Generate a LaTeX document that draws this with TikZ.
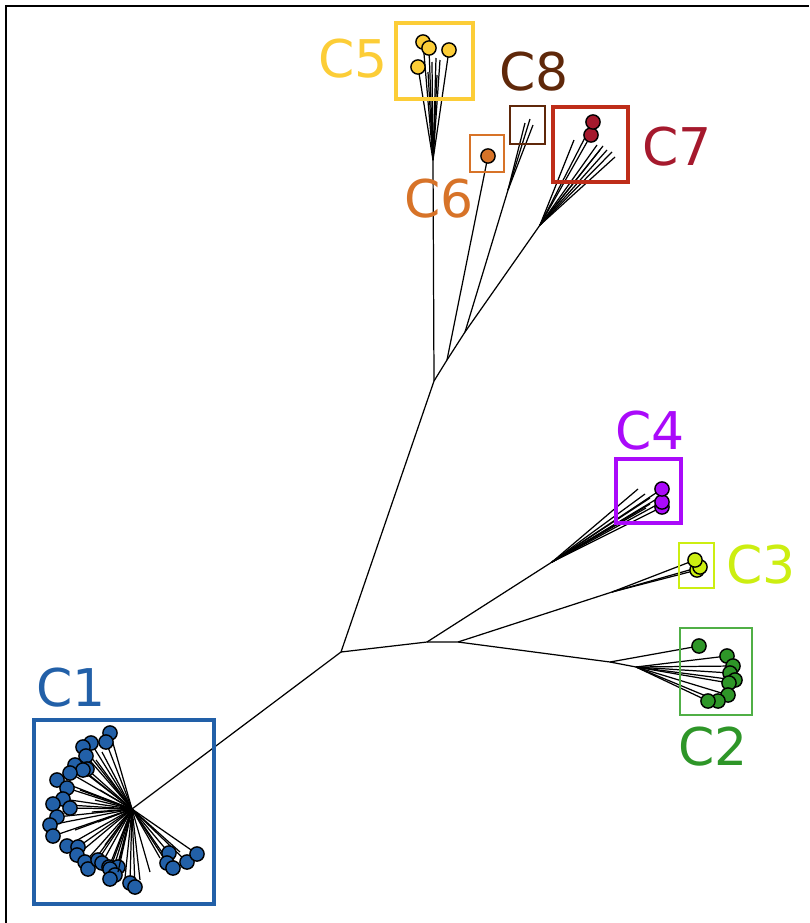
\documentclass[tikz,border=0pt]{standalone}
\usepackage{fontspec}
\setmainfont{DejaVu Sans}
\pgfdeclarelayer{bg}
\pgfsetlayers{bg,main}
\definecolor{cA}{RGB}{34,96,168}
\definecolor{cB}{RGB}{46,150,40}
\definecolor{cBbox}{RGB}{80,175,70}
\definecolor{cC}{RGB}{204,238,17}
\definecolor{cD}{RGB}{170,10,250}
\definecolor{cE}{RGB}{252,205,55}
\definecolor{cF}{RGB}{215,115,40}
\definecolor{cG}{RGB}{165,25,45}
\definecolor{cGbox}{RGB}{190,45,25}
\definecolor{cH}{RGB}{95,40,10}
\begin{document}
\begin{tikzpicture}[x=0.02cm,y=-0.02cm,
  leaf/.style={circle,draw=black,line width=0.8pt,minimum size=0.285cm,inner sep=0pt},
  edge/.style={line width=0.7pt,black},
  lab/.style={inner sep=0pt,font=\fontsize{29.6}{30}\selectfont}]
\useasboundingbox (0,0) rectangle (809,923);
\draw[line width=0.9pt] (6,923) -- (6,6) -- (809,6);
% internal coordinates
\coordinate (r) at (341,652);
\coordinate (a) at (427,642);
\coordinate (b) at (458,642);
\coordinate (t) at (434,381);
\coordinate (h1) at (132,809);
\coordinate (h2) at (610,662);
\coordinate (h2b) at (636,667);
\coordinate (h3) at (612,592);
\coordinate (h4) at (552,562);
\coordinate (h5) at (433,160);
\coordinate (j6) at (447,360);
\coordinate (j8) at (465,332);
\coordinate (h8) at (508,190);
\coordinate (h7) at (540,225);
\draw[edge] (h1) -- (r) -- (t) -- (h5);
\draw[edge] (r) -- (a) -- (b) -- (h2) -- (h2b);
\draw[edge] (a) -- (h4);
\draw[edge] (b) -- (h3);
\draw[edge] (t) -- (j6) -- (j8) -- (h7);
\draw[edge] (j8) -- (h8);
% C1
\foreach \x/\y [count=\i] in {110/733,106/742,91/743,83/747,86/756,75/765,87/769,83/770,70/773,57/780,67/788,63/799,53/804,70/808,57/817,50/825,53/836,67/846,78/847,77/855,85/862,88/869,98/860,102/863,109/867,118/867,110/869,115/875,110/879,130/883,135/887,169/853,167/863,173/868,187/862,197/854}{
  \node[leaf,fill=cA] (c1-\i) at (\x,\y) {};
  \begin{pgfonlayer}{bg}\draw[edge] (h1) -- (c1-\i.center);\end{pgfonlayer}
}
\foreach \x/\y [count=\i] in {100/790,95/800,92/812,98/822,118/872,125/878,140/880,150/872,160/858,180/852,105/845,96/760,102/752,80/790,75/830}{
  \coordinate (t1-\i) at (\x,\y);
  \draw[edge] (h1) -- (t1-\i);
}
% C2
\node[leaf,fill=cB] (c2-0) at (699,646) {};
\begin{pgfonlayer}{bg}\draw[edge] (h2) -- (c2-0.center);\end{pgfonlayer}
\foreach \x/\y [count=\i] in {727/656,733/666,730/673,735/680,729/683,728/695,718/701,708/701}{
  \node[leaf,fill=cB] (c2-\i) at (\x,\y) {};
  \begin{pgfonlayer}{bg}\draw[edge] (h2b) -- (c2-\i.center);\end{pgfonlayer}
}
% C3
\foreach \x/\y [count=\i] in {697/570,700/567,695/560}{
  \node[leaf,fill=cC] (c3-\i) at (\x,\y) {};
  \begin{pgfonlayer}{bg}\draw[edge] (h3) -- (c3-\i.center);\end{pgfonlayer}
}
% C4
\foreach \x/\y [count=\i] in {638/489,645/494,650/498,655/500,650/504,646/508}{
  \coordinate (t4-\i) at (\x,\y);
  \draw[edge] (h4) -- (t4-\i);
}
\foreach \x/\y [count=\i] in {662/507,662/502,662/489}{
  \node[leaf,fill=cD] (c4-\i) at (\x,\y) {};
  \begin{pgfonlayer}{bg}\draw[edge] (h4) -- (c4-\i.center);\end{pgfonlayer}
}
% C5
\foreach \x/\y [count=\i] in {432/62,436/58,440/60,437/75,428/72}{
  \coordinate (t5-\i) at (\x,\y);
  \draw[edge] (h5) -- (t5-\i);
}
\foreach \x/\y [count=\i] in {423/42,429/48,449/50,418/67}{
  \node[leaf,fill=cE] (c5-\i) at (\x,\y) {};
  \begin{pgfonlayer}{bg}\draw[edge] (h5) -- (c5-\i.center);\end{pgfonlayer}
}
% C6
\node[leaf,fill=cF] (c6-1) at (488,156) {};
\begin{pgfonlayer}{bg}\draw[edge] (j6) -- (c6-1.center);\end{pgfonlayer}
% C7
\foreach \x/\y [count=\i] in {574/140,597/145,603/146,607/150,612/152,615/157,600/150}{
  \coordinate (t7-\i) at (\x,\y);
  \draw[edge] (h7) -- (t7-\i);
}
\foreach \x/\y [count=\i] in {591/135,593/122}{
  \node[leaf,fill=cG] (c7-\i) at (\x,\y) {};
  \begin{pgfonlayer}{bg}\draw[edge] (h7) -- (c7-\i.center);\end{pgfonlayer}
}
% C8
\foreach \x/\y [count=\i] in {525/123,530/119,533/125}{
  \coordinate (t8-\i) at (\x,\y);
  \draw[edge] (h8) -- (t8-\i);
}
% boxes
\draw[cA,line width=1.8pt] (34,720) rectangle (214,904);
\draw[cBbox,line width=1.1pt] (680,628) rectangle (752,715);
\draw[cC,line width=1.1pt] (679,543) rectangle (714,588);
\draw[cD,line width=1.8pt] (616,459) rectangle (681,523);
\draw[cE,line width=1.8pt] (396,23) rectangle (473,99);
\draw[cF,line width=1.5pt] (470,135) rectangle (504,172);
\draw[cGbox,line width=1.8pt] (553,107) rectangle (628,182);
\draw[cH,line width=1.5pt] (510,106) rectangle (545,144);
% labels
\node[lab,text=cA] (l1) at (71,688) {C1};
\node[lab,text=cB] (l2) at (713,747) {C2};
\node[lab,text=cC] (l3) at (761,565) {C3};
\node[lab,text=cD] (l4) at (650,431) {C4};
\node[lab,text=cE] (l5) at (353,59) {C5};
\node[lab,text=cF] (l6) at (439,199) {C6};
\node[lab,text=cG] (l7) at (677,147) {C7};
\node[lab,text=cH] (l8) at (534,72) {C8};
\end{tikzpicture}
\end{document}
